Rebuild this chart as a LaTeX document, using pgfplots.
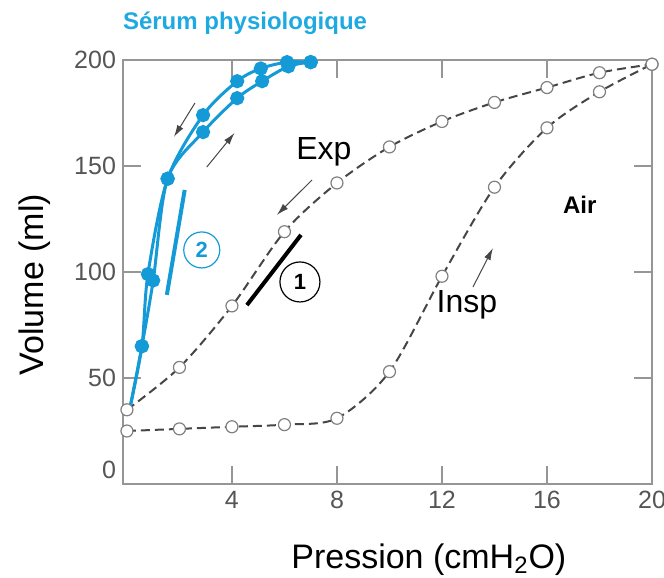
\documentclass[border=0pt]{standalone}
\usepackage{fontspec}
\setmainfont{Liberation Sans}
\usepackage{pgfplots}
\pgfplotsset{compat=1.18}
\usetikzlibrary{arrows.meta}
\definecolor{serum}{RGB}{20,155,215}
\definecolor{serumtitle}{RGB}{30,170,225}
\definecolor{axgray}{RGB}{150,150,150}
\definecolor{tickgray}{RGB}{85,85,85}
\definecolor{dashgray}{RGB}{70,70,70}
\begin{document}
\begin{tikzpicture}
\useasboundingbox (-61.5pt,-47pt) rectangle (270.5pt,242pt);
\begin{axis}[
 scale only axis, width=264.5pt, height=212pt,
 xmin=-0.15, xmax=20, ymin=0, ymax=200,
 axis line style={axgray, line width=0.6pt},
 tick style={axgray, line width=0.6pt},
 tick align=inside, major tick length=9pt,
 xtick={4,8,12,16,20}, ytick={50,100,150,200},
 extra y ticks={0},
 extra y tick style={major tick length=0pt, yticklabel style={yshift=7pt}},
 tick label style={font=\fontsize{12.5}{14}\selectfont, text=tickgray},
 /pgf/number format/assume math mode=true,
 xlabel={Pression (cmH\textsubscript{2}O)},
 ylabel={Volume (ml)},
 label style={font=\fontsize{17}{20}\selectfont},
 xlabel style={at={(axis cs:11.5,-35.8)}, anchor=center},
 ylabel style={at={(axis cs:-3.5,94)}, anchor=center},
 clip=false,
]
% Air: inspiration (dashed, lower)
\addplot[dashgray, line width=1pt, dash pattern=on 4.5pt off 2.5pt, smooth, tension=0.5,
  mark=*, mark size=3pt, mark options={solid, fill=white, draw=gray, line width=0.6pt}]
  coordinates {(0,25)(2,26)(4,27)(6,28)(8,31)(10,53)(12,98)(14,140)(16,168)(18,185)(20,198)};
% Air: expiration (dashed, upper)
\addplot[dashgray, line width=1pt, dash pattern=on 4.5pt off 2.5pt, smooth, tension=0.5,
  mark=*, mark size=3pt, mark options={solid, fill=white, draw=gray, line width=0.6pt}]
  coordinates {(0,35)(2,55)(4,84)(6,119)(8,142)(10,159)(12,171)(14,180)(16,187)(18,194)(20,198)};
% Serum: expiration (upper-left)
\addplot[serum, line width=1.5pt, smooth, tension=0.5, mark=*, mark size=2.8pt, mark indices={2,3,4,5,6,7,8,9}]
  coordinates {(0.1,35)(0.57,65)(0.8,99)(1.55,144)(2.9,174)(4.2,190)(5.1,196)(6.1,199)(7,199)};
% Serum: inspiration (lower-right)
\addplot[serum, line width=1.5pt, smooth, tension=0.5, mark=*, mark size=2.8pt, mark indices={2,3,4,5,6,7,8,9}]
  coordinates {(0.1,35)(0.57,65)(1.0,96)(1.55,144)(2.9,166)(4.2,182)(5.15,190)(6.15,197)(7,199)};

% annotations
\node[font=\bfseries\fontsize{12}{14}\selectfont, text=serumtitle] at (axis cs:4.5,217.5) {Sérum physiologique};
\node[font=\fontsize{16}{19}\selectfont] at (axis cs:7.5,156.6) {Exp};
\node[font=\fontsize{16}{19}\selectfont] at (axis cs:12.95,84.4) {Insp};
\node[font=\bfseries\fontsize{12}{14}\selectfont] at (axis cs:17.25,131.6) {Air};
\draw[black, line width=2pt] (axis cs:4.57,84.4) -- (axis cs:6.63,117.5);
\node[draw, circle, line width=0.6pt, minimum size=20pt, inner sep=0pt, font=\bfseries\fontsize{11}{13}\selectfont] at (axis cs:6.59,95.3) {1};
\draw[serum, line width=2pt] (axis cs:2.2,138.7) -- (axis cs:1.52,89.2);
\node[draw=serum, text=serum, circle, line width=0.6pt, minimum size=18pt, inner sep=0pt, font=\bfseries\fontsize{11}{13}\selectfont] at (axis cs:2.85,110.4) {2};
\draw[dashgray, line width=0.5pt, -{Latex[length=6pt,width=3.5pt]}] (axis cs:7.05,143.4) -- (axis cs:5.71,126.9);
\draw[dashgray, line width=0.5pt, -{Latex[length=6pt,width=3.5pt]}] (axis cs:13.18,92.9) -- (axis cs:13.94,111.3);
\draw[dashgray, line width=0.5pt, -{Latex[length=6pt,width=3.5pt]}] (axis cs:2.59,179.7) -- (axis cs:1.79,163.7);
\draw[dashgray, line width=0.5pt, -{Latex[length=6pt,width=3.5pt]}] (axis cs:3.04,149.5) -- (axis cs:4.1,165.6);
\end{axis}
\end{tikzpicture}
\end{document}
